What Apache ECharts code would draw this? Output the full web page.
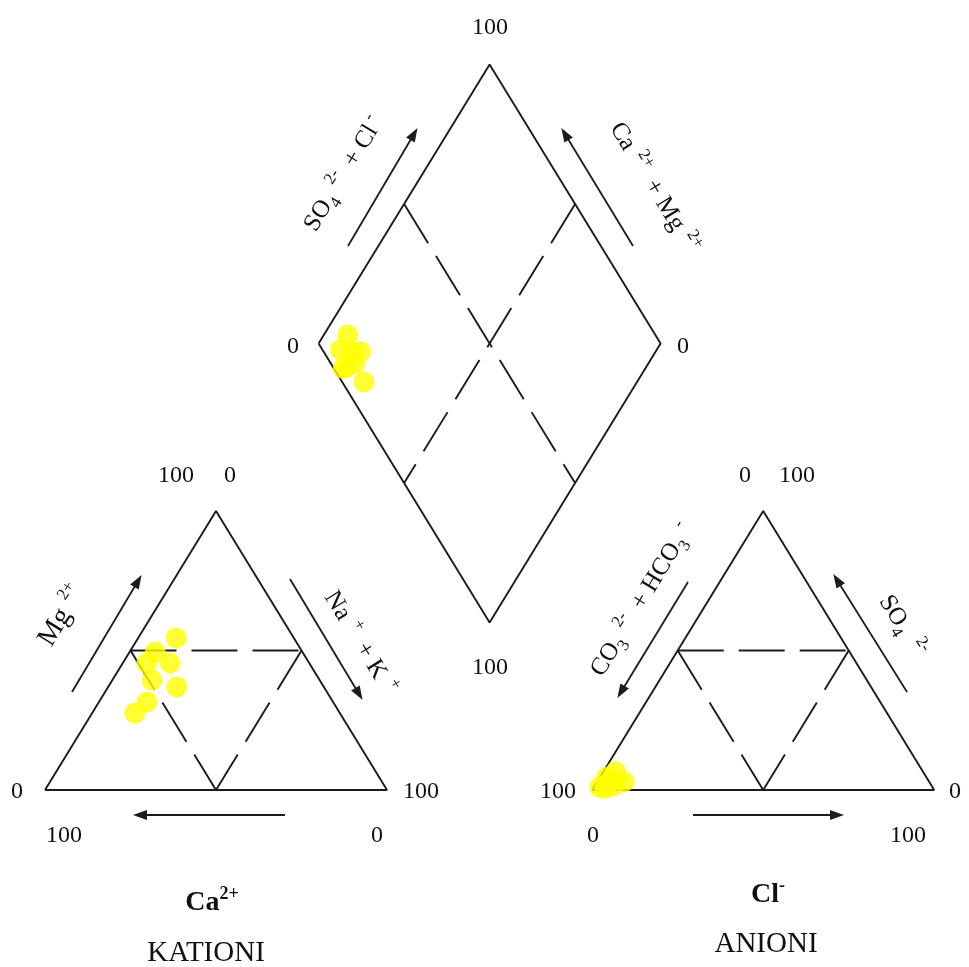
<!DOCTYPE html>
<html><head><meta charset="utf-8">
<script src="https://cdn.jsdelivr.net/npm/echarts@6/dist/echarts.min.js"></script>
<style>html,body{margin:0;padding:0;background:#fff}#c{width:969px;height:967px}</style>
</head><body><div id="c"></div>
<script>
// ---- sample data (percent of meq) ----
const sampleIds = ['1','2','3','4','5','6','7','8'];
const caPct   = [34.4, 43.0, 47.5, 40.7, 49.0, 43.0, 54.4, 59.9];
const mgPct   = [54.5, 49.5, 45.5, 45.5, 39.4, 36.9, 31.5, 27.6];
const naKPct  = [11.1,  7.5,  7.0, 13.8, 11.6, 20.1, 14.1, 12.5];
const hco3Pct = [91.6, 94.7, 89.9, 89.1, 97.3, 93.6, 93.0, 96.0];
const so4Pct  = [ 3.5,  2.0,  6.5,  3.0,  1.0,  4.5,  1.5,  0.5];
const clPct   = [ 4.9,  3.3,  3.6,  7.9,  1.7,  1.9,  5.5,  3.5];

// tick labels
const diamondTicks = ['100', '0', '0', '100'];      // top, left, right, bottom
const cationTicks  = ['100', '0', '0', '100', '100', '0'];
const anionTicks   = ['0', '100', '100', '0', '0', '100'];

// ---- geometry of the Piper plot (data units) ----
const H = 0.8158;   // triangle height / base
const GAP = 60;     // gap between triangles
const S = 3.42;     // px per data unit
const OX = 45, OY = 790; // pixel of data origin

function cationXY(ca, mg, nak) { return [nak + mg / 2, mg * H]; }
function anionXY(hco3, so4, cl) { return [100 + GAP + cl + so4 / 2, so4 * H]; }
function diamondXY(nak, s) { const t = 100 + GAP + s - nak; return [nak + t / 2, t * H]; }
function px2d(p) { return [(p[0] - OX) / S, (OY - p[1]) / S]; }

const cationPts = caPct.map((c, i) => cationXY(c, mgPct[i], naKPct[i]));
const anionPts = hco3Pct.map((h, i) => anionXY(h, so4Pct[i], clPct[i]));
const diamondPts = naKPct.map((n, i) => diamondXY(n, so4Pct[i] + clPct[i]));

const cationFrame = [cationXY(100,0,0), cationXY(0,0,100), cationXY(0,100,0), cationXY(100,0,0)];
const anionFrame = [anionXY(100,0,0), anionXY(0,0,100), anionXY(0,100,0), anionXY(100,0,0)];
const diamondFrame = [diamondXY(0,0), diamondXY(0,100), diamondXY(100,100), diamondXY(100,0), diamondXY(0,0)];

const cationDash = [
  [cationXY(50,50,0), cationXY(0,50,50)],
  [cationXY(50,50,0), cationXY(50,0,50)],
  [cationXY(0,50,50), cationXY(50,0,50)]
];
const anionDash = [
  [anionXY(50,50,0), anionXY(0,50,50)],
  [anionXY(50,50,0), anionXY(50,0,50)],
  [anionXY(0,50,50), anionXY(50,0,50)]
];
const diamondDash = [
  [diamondXY(0,50), diamondXY(100,50)],
  [diamondXY(50,100), diamondXY(50,0)]
];

// arrows (pixel layout positions)
const arrows = [
  [[72,692],[138,581]], [[290,579],[359,694]], [[285,815],[140,815]],
  [[688,582],[621,692]], [[907,692],[837,580]], [[693,815],[837,815]],
  [[348,246],[414,134]], [[633,246],[565,134]]
];

const LINE = '#1c1c1c';
const series = [];
function frameSeries(data) {
  return { type: 'line', data: data, showSymbol: false, silent: true, animation: false,
    lineStyle: { color: LINE, width: 1.9 }, z: 2 };
}
series.push(frameSeries(cationFrame));
series.push(frameSeries(anionFrame));
series.push(frameSeries(diamondFrame));
[...cationDash, ...anionDash, ...diamondDash].forEach(seg => {
  series.push({ type: 'line', data: seg, showSymbol: false, silent: true, animation: false,
    lineStyle: { color: LINE, width: 1.9, type: [46, 15] }, z: 2 });
});
series[0].markLine = {
  silent: true, animation: false, symbol: ['none', 'triangle'], symbolSize: [10, 14],
  label: { show: false }, lineStyle: { color: LINE, width: 1.8, type: 'solid' },
  emphasis: { disabled: true },
  data: arrows.map(a => [{ coord: px2d(a[0]) }, { coord: px2d(a[1]) }])
};
[cationPts, anionPts, diamondPts].forEach(pts => {
  series.push({ type: 'scatter', data: pts, symbol: 'circle', symbolSize: 21,
    itemStyle: { color: '#FFFF00' }, z: 5, animation: false });
});

// ---- texts ----
const FONT = '"Liberation Serif", "Times New Roman", serif';
const rich = {
  m: { fontSize: 25, fontFamily: FONT, fill: '#111', lineHeight: 34 },
  mg: { fontSize: 28, fontFamily: FONT, fill: '#111', lineHeight: 36 },
  b: { fontSize: 28, fontFamily: FONT, fontWeight: 'bold', fill: '#111', lineHeight: 36 },
  sub: { fontSize: 17, fontFamily: FONT, fill: '#111', lineHeight: 18, verticalAlign: 'bottom' },
  sup: { fontSize: 17, fontFamily: FONT, fill: '#111', lineHeight: 18, verticalAlign: 'top' },
  bsup: { fontSize: 18, fontFamily: FONT, fontWeight: 'bold', fill: '#111', lineHeight: 18, verticalAlign: 'top' }
};
function txt(s, x, y, rot, size) {
  return { type: 'text', x: x, y: y, rotation: rot || 0, silent: true, z: 10,
    style: { text: s, rich: rich, fontSize: size || 24, fontFamily: FONT, fill: '#111',
      align: 'center', verticalAlign: 'middle' } };
}
const A = Math.atan2(279, 170.5);
const numPos = {
  diamond: [[490,28],[293,347],[683,347],[490,668]],
  cation: [[176,476],[230,476],[17,792],[64,836],[421,792],[377,836]],
  anion: [[745,476],[797,476],[558,792],[593,836],[955,792],[908,836]]
};
const graphics = [];
diamondTicks.forEach((t, i) => graphics.push(txt(t, numPos.diamond[i][0], numPos.diamond[i][1])));
cationTicks.forEach((t, i) => graphics.push(txt(t, numPos.cation[i][0], numPos.cation[i][1])));
anionTicks.forEach((t, i) => graphics.push(txt(t, numPos.anion[i][0], numPos.anion[i][1])));

graphics.push(txt('{m|SO}{sub|4}{sup|  2-}{m|  + Cl}{sup| -}', 344, 174, A));
graphics.push(txt('{m|Ca}{sup|  2+}{m|  + Mg}{sup|  2+}', 654, 188, -A));
graphics.push(txt('{mg|Mg}{sup|  2+}', 62, 616, A));
graphics.push(txt('{m|Na}{sup|  +}{m|  + K}{sup|  +}', 360, 643, -A));
graphics.push(txt('{m|CO}{sub|3}{sup|  2-}{m|  + HCO}{sub|3}{sup|  -}', 642, 600, A));
graphics.push(txt('{m|SO}{sub|4}{sup|   2-}', 902, 626, -A));

graphics.push(txt('{b|Ca}{bsup|2+}', 212, 903));
graphics.push(txt('KATIONI', 206, 953, 0, 29));
graphics.push(txt('{b|Cl}{bsup|-}', 768, 895));
graphics.push(txt('ANIONI', 766, 944, 0, 29));

const chart = echarts.init(document.getElementById('c'), null, { renderer: 'canvas' });
chart.setOption({
  animation: false,
  backgroundColor: '#fff',
  grid: { left: 0, right: 0, top: 0, bottom: 0 },
  xAxis: { type: 'value', min: -OX / S, max: (969 - OX) / S, show: false },
  yAxis: { type: 'value', min: -(967 - OY) / S, max: OY / S, show: false },
  series: series,
  graphic: graphics
});
</script></body></html>
